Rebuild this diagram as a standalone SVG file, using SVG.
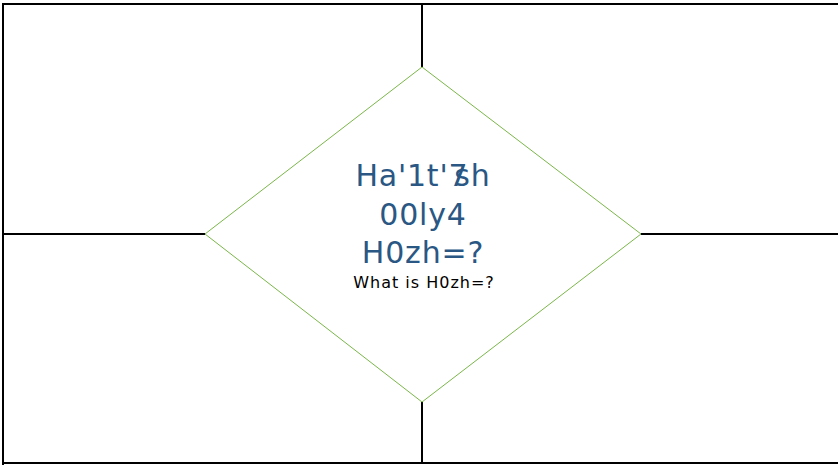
<svg xmlns="http://www.w3.org/2000/svg" width="838" height="466" viewBox="0 0 838 466">
<style>
.ln{stroke:#000;stroke-width:2;fill:none}
.dia{stroke:#7ab648;stroke-width:1;fill:#fff}
.big{font-family:"DejaVu Sans",sans-serif;font-size:30px;fill:#2a5783;text-anchor:middle;letter-spacing:0.8px}
.sm{font-family:"DejaVu Sans",sans-serif;font-size:16px;fill:#000;text-anchor:middle;letter-spacing:1px}
</style>
<rect width="838" height="466" fill="#fff"/>
<g id="connectors">
<path class="ln" d="M3,4 H838" stroke-width="3"/>
<path class="ln" d="M3,3 V465"/>
<path class="ln" d="M3,463 H838"/>
<path class="ln" d="M3,234 H205"/>
<path class="ln" d="M641,234 H838"/>
<path class="ln" d="M422,3 V67"/>
<path class="ln" d="M422,402 V463"/>
</g>
<g id="decision">
<polygon class="dia" points="422,67 641,234 422,402 205,234"/>
<text class="big" x="423" y="186">Ha'1t'7<tspan dx="-14">sh</tspan></text>
<text class="big" x="423" y="225">00ly4</text>
<text class="big" x="423" y="263">H0zh=?</text>
<text class="sm" x="424" y="288">What is H0zh=?</text>
</g>
</svg>
